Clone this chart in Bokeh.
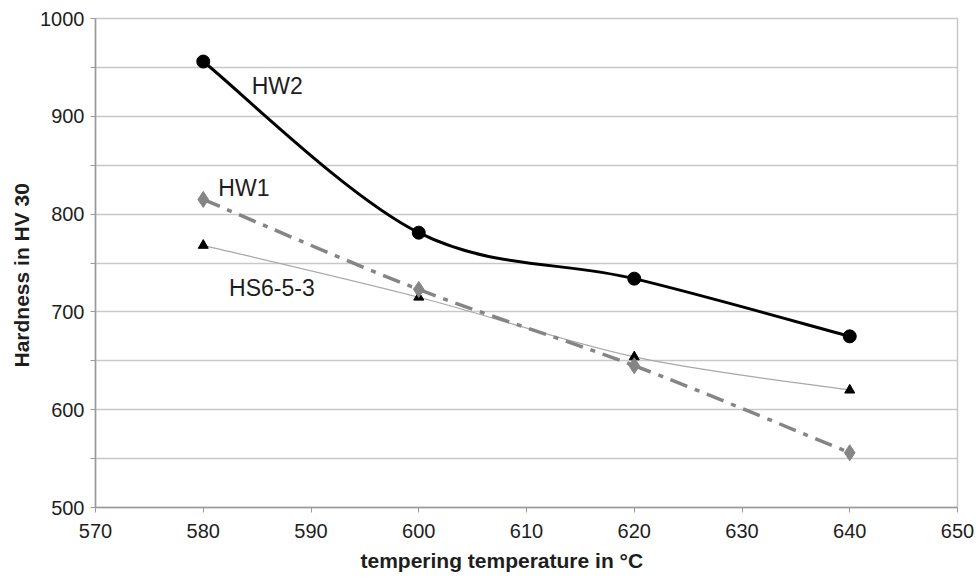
from bokeh.plotting import figure
from bokeh.models import Range1d, FixedTicker, Label, Title
from bokeh.embed import file_html
from bokeh.resources import INLINE

# ---- data ----
temps = [580, 600, 620, 640]
hw2 = [956, 781, 734, 675]
hw1 = [815, 723, 645, 556]
hs653 = [768, 715, 654, 620]

x_ticks = [570, 580, 590, 600, 610, 620, 630, 640, 650]
y_ticks = [500, 600, 700, 800, 900, 1000]
y_minor = [550, 650, 750, 850, 950]

FONT = "Liberation Sans"
TXT = "#1e1e1e"


def bezier_segments(xs, ys):
    """Catmull-Rom style smoothing (like spreadsheet 'smoothed line')."""
    n = len(xs)
    out = dict(x0=[], y0=[], x1=[], y1=[], cx0=[], cy0=[], cx1=[], cy1=[])
    for i in range(n - 1):
        xp, yp = (xs[i - 1], ys[i - 1]) if i > 0 else (xs[i], ys[i])
        xn, yn = (xs[i + 2], ys[i + 2]) if i + 2 < n else (xs[i + 1], ys[i + 1])
        out["x0"].append(xs[i]); out["y0"].append(ys[i])
        out["x1"].append(xs[i + 1]); out["y1"].append(ys[i + 1])
        out["cx0"].append(xs[i] + (xs[i + 1] - xp) / 6.0)
        out["cy0"].append(ys[i] + (ys[i + 1] - yp) / 6.0)
        out["cx1"].append(xs[i + 1] - (xn - xs[i]) / 6.0)
        out["cy1"].append(ys[i + 1] - (yn - ys[i]) / 6.0)
    return out


p = figure(width=980, height=580, output_backend="svg", toolbar_location=None,
           x_range=Range1d(570, 650), y_range=Range1d(500, 1000),
           min_border_left=95, min_border_right=23, min_border_top=18, min_border_bottom=73)

p.background_fill_color = "white"
p.border_fill_color = "white"
p.outline_line_color = "#c8c8c8"
p.outline_line_width = 1.5

# grids
p.xgrid.grid_line_color = None
p.ygrid.grid_line_color = "#c8c8c8"
p.ygrid.grid_line_width = 1.5
p.ygrid.minor_grid_line_color = "#c8c8c8"
p.ygrid.minor_grid_line_width = 1.5

# axes
p.xaxis.ticker = FixedTicker(ticks=x_ticks)
p.yaxis.ticker = FixedTicker(ticks=y_ticks, minor_ticks=y_minor)
for ax in (p.xaxis[0], p.yaxis[0]):
    ax.axis_line_color = "#9a9a9a"
    ax.axis_line_width = 1.5
    ax.major_tick_line_color = "#9a9a9a"
    ax.major_tick_in = 0
    ax.major_tick_out = 5
    ax.major_label_text_font = FONT
    ax.major_label_text_font_size = "20px"
    ax.major_label_text_color = TXT
p.xaxis.minor_tick_line_color = None
p.yaxis.minor_tick_line_color = "#9a9a9a"
p.yaxis.minor_tick_in = 0
p.yaxis.minor_tick_out = 5
p.xaxis.major_label_standoff = 11
p.yaxis.major_label_standoff = 6

# axis titles (as side titles so they can sit off-centre like the reference)
p.add_layout(Title(text="tempering temperature in °C", align="left", offset=265,
                   text_font=FONT, text_font_style="bold", text_font_size="21px",
                   text_color=TXT, standoff=12), "below")
p.add_layout(Title(text="Hardness in HV 30", align="left", offset=140,
                   text_font=FONT, text_font_style="bold", text_font_size="21px",
                   text_color=TXT, standoff=10), "left")

# HS6-5-3 (thin grey smoothed line, black triangles)
s = bezier_segments(temps, hs653)
p.bezier(**s, line_color="#a8a8a8", line_width=1.2)
p.scatter(temps, hs653, marker="triangle", size=10, fill_color="black", line_color="black")

# HW1 (grey dash-dot, diamonds)
s = bezier_segments(temps, hw1)
p.bezier(**s, line_color="#858585", line_width=3.5, line_dash="18 8 5 8")
p.scatter(temps, hw1, marker="diamond", size=16, fill_color="#858585", line_color="#858585")

# HW2 (black thick smoothed line, circles)
s = bezier_segments(temps, hw2)
p.bezier(**s, line_color="black", line_width=3)
p.scatter(temps, hw2, marker="circle", size=13, fill_color="black", line_color="black")

# series labels
for txt, lx, ly in (("HW2", 584.5, 931), ("HW1", 581.4, 827), ("HS6-5-3", 582.4, 724)):
    p.add_layout(Label(x=lx, y=ly, text=txt, text_font=FONT, text_font_size="23px",
                       text_color=TXT, text_baseline="alphabetic"))

open("out.html", "w").write(file_html(p, INLINE))
